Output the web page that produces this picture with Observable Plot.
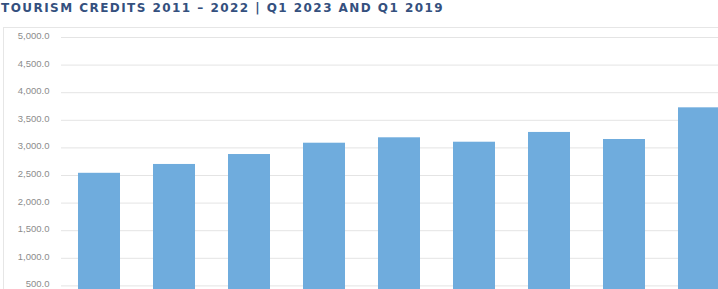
<!DOCTYPE html>
<html>
<head>
<meta charset="utf-8">
<script src="https://cdn.jsdelivr.net/npm/d3@7"></script>
<script src="https://cdn.jsdelivr.net/npm/@observablehq/plot@0.6"></script>
<style>
  html, body { margin: 0; padding: 0; background: #fff; overflow: hidden; width: 718px; height: 289px; }
  #title { font-family: "DejaVu Sans", Verdana, sans-serif; font-weight: bold; font-size: 12px; color: #34507e; height: 20px; line-height: 16px; padding-left: 1px; white-space: nowrap; letter-spacing: 1.45px; }
  #frame { position: absolute; left: 3px; top: 27px; width: 800px; height: 400px; border: 1px solid #e6e6e6; box-sizing: border-box; }
  #chart { position: absolute; left: 0; top: 20px; width: 736px; }
  #chart svg { max-width: none !important; }
</style>
</head>
<body>
<div id="title">TOURISM CREDITS 2011 – 2022 | Q1 2023 AND Q1 2019</div>
<div id="frame"></div>
<div id="chart"></div>
<script>
const years = ["2011", "2012", "2013", "2014", "2015", "2016", "2017", "2018", "2019"];
const credits = [2540, 2700, 2880, 3085, 3183, 3103, 3280, 3152, 3726];
const yTicks = [500, 1000, 1500, 2000, 2500, 3000, 3500, 4000, 4500, 5000];

const data = years.map((year, i) => ({year, value: credits[i]}));

const chart = Plot.plot({
  width: 736,
  height: 300,
  marginLeft: 61,
  marginRight: 0,
  marginTop: 17,
  marginBottom: 7,
  style: {background: "transparent", fontFamily: "Liberation Sans, Arial, sans-serif"},
  x: {domain: years, paddingInner: 0.44, paddingOuter: 0.22, label: null, axis: null},
  y: {domain: [0, 5000], label: null},
  marks: [
    Plot.gridY(yTicks, {stroke: "#e4e4e4", strokeOpacity: 1, strokeWidth: 1}),
    Plot.barY(data, {x: "year", y: "value", fill: "#6facdd"}),
    Plot.axisY(yTicks, {tickSize: 0, tickPadding: 12, dy: -1.5, tickFormat: d3.format(",.1f"), fill: "#8c8c8c", fontSize: 9.5, label: null})
  ]
});
document.getElementById("chart").appendChild(chart);
</script>
</body>
</html>
